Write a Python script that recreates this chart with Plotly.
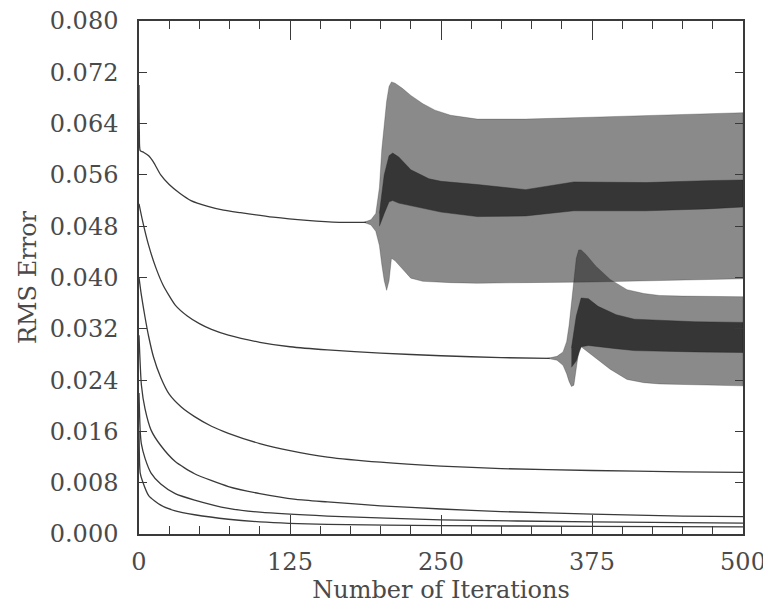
import plotly.graph_objects as go

# ---------------- data ----------------
# Curve A (smooth part, before oscillation)
a_x = [0, 0.3, 1, 4, 8, 12, 18, 25, 34, 43, 57, 70, 84, 111, 139, 166, 188]
a_y = [0.0700, 0.0625, 0.0598, 0.0595, 0.0590, 0.0580, 0.0560, 0.0545, 0.0531, 0.0520, 0.0511, 0.0505, 0.0501, 0.0494, 0.0489, 0.0486, 0.0486]

# Curve A oscillation envelope
a_env_x = [186, 192, 196, 199, 201, 203, 205, 207, 209, 212, 218, 225, 235, 245, 258, 280, 320, 375, 430, 500]
a_env_hi = [0.0486, 0.0490, 0.0500, 0.0540, 0.0600, 0.0640, 0.0675, 0.0698, 0.0705, 0.0703, 0.0695, 0.0684, 0.0671, 0.0661, 0.0653, 0.0647, 0.0647, 0.0650, 0.0653, 0.0657]
a_env_lo = [0.0486, 0.0482, 0.0472, 0.0450, 0.0420, 0.0395, 0.0380, 0.0395, 0.0430, 0.0426, 0.0414, 0.0399, 0.0394, 0.0393, 0.0392, 0.0391, 0.0392, 0.0393, 0.0395, 0.0398]

# Curve A dense core
a_core_x = [199, 203, 207, 210, 215, 225, 240, 250, 280, 320, 360, 420, 470, 500]
a_core_hi = [0.0500, 0.0560, 0.0590, 0.0594, 0.0588, 0.0568, 0.0554, 0.0550, 0.0545, 0.0537, 0.0549, 0.0548, 0.0551, 0.0552]
a_core_lo = [0.0480, 0.0500, 0.0518, 0.0520, 0.0516, 0.0511, 0.0506, 0.0502, 0.0495, 0.0496, 0.0504, 0.0504, 0.0507, 0.0510]

# Curve B (smooth part)
b_x = [0, 3, 8, 14, 20, 30, 40, 50, 60, 74, 100, 125, 156, 200, 250, 300, 340]
b_y = [0.0515, 0.0488, 0.0450, 0.0415, 0.0388, 0.0357, 0.0340, 0.0328, 0.0319, 0.0310, 0.0299, 0.0292, 0.0287, 0.0282, 0.0278, 0.0275, 0.0274]

# Curve B oscillation envelope
b_env_x = [338, 346, 351, 354, 356, 358, 360, 362, 364, 366, 370, 378, 390, 404, 418, 431, 450, 475, 500]
b_env_hi = [0.0274, 0.0277, 0.0284, 0.0300, 0.0325, 0.0360, 0.0400, 0.0430, 0.0443, 0.0443, 0.0436, 0.0418, 0.0397, 0.0381, 0.0375, 0.0372, 0.0371, 0.0371, 0.0370]
b_env_lo = [0.0274, 0.0271, 0.0263, 0.0250, 0.0238, 0.0230, 0.0232, 0.0255, 0.0285, 0.0292, 0.0286, 0.0275, 0.0257, 0.0241, 0.0236, 0.0234, 0.0233, 0.0232, 0.0231]

# Curve B dense core
b_core_x = [358, 362, 366, 372, 380, 395, 410, 430, 460, 500]
b_core_hi = [0.0290, 0.0340, 0.0368, 0.0367, 0.0355, 0.0342, 0.0335, 0.0333, 0.0331, 0.0330]
b_core_lo = [0.0260, 0.0270, 0.0292, 0.0294, 0.0293, 0.0289, 0.0286, 0.0285, 0.0284, 0.0283]

# Curves C-F
c_x = [0, 2, 5, 8, 12, 18, 25, 35, 46, 60, 74, 100, 125, 156, 200, 250, 300, 375, 450, 500]
c_y = [0.0400, 0.0372, 0.0338, 0.0308, 0.0276, 0.0244, 0.0218, 0.0198, 0.0183, 0.0168, 0.0157, 0.0141, 0.0130, 0.0120, 0.0112, 0.0106, 0.0102, 0.0099, 0.0097, 0.0096]

d_x = [0, 2, 5, 10, 18, 30, 46, 74, 100, 130, 156, 200, 250, 300, 375, 450, 500]
d_y = [0.0310, 0.0232, 0.0195, 0.0162, 0.0138, 0.0113, 0.0094, 0.0074, 0.0063, 0.0054, 0.0050, 0.0044, 0.0039, 0.0035, 0.0031, 0.0028, 0.0027]

e_x = [0, 1, 2, 5, 10, 18, 30, 46, 74, 100, 156, 250, 375, 500]
e_y = [0.0220, 0.0160, 0.0140, 0.0118, 0.0095, 0.0078, 0.0063, 0.0053, 0.0040, 0.0034, 0.0028, 0.0022, 0.0019, 0.0017]

f_x = [0, 0.5, 1, 3, 8, 18, 30, 46, 74, 100, 156, 250, 375, 500]
f_y = [0.0160, 0.0110, 0.0095, 0.0082, 0.0060, 0.0045, 0.0036, 0.0030, 0.0023, 0.0019, 0.0015, 0.0013, 0.0012, 0.0011]

x_ticks = [0, 125, 250, 375, 500]
y_ticks = [0.000, 0.008, 0.016, 0.024, 0.032, 0.040, 0.048, 0.056, 0.064, 0.072, 0.080]

# ---------------- figure ----------------
LINE = "#3a3a3a"
TEXT = "#4a4a4a"
BAND = "rgba(30,30,30,0.52)"
CORE = "rgba(35,35,35,0.82)"

fig = go.Figure()


def band(xs, hi, lo, color):
    fig.add_trace(go.Scatter(
        x=list(xs) + list(xs)[::-1],
        y=list(hi) + list(lo)[::-1],
        mode="lines", fill="toself", fillcolor=color,
        line=dict(color=color, width=0.5),
        hoverinfo="skip", showlegend=False))


band(a_env_x, a_env_hi, a_env_lo, BAND)
band(b_env_x, b_env_hi, b_env_lo, BAND)
band(a_core_x, a_core_hi, a_core_lo, CORE)
band(b_core_x, b_core_hi, b_core_lo, CORE)

for xs, ys in [(a_x, a_y), (b_x, b_y), (c_x, c_y), (d_x, d_y), (e_x, e_y), (f_x, f_y)]:
    fig.add_trace(go.Scatter(x=xs, y=ys, mode="lines",
                             line=dict(color=LINE, width=1.3, shape="spline", smoothing=0.6),
                             showlegend=False))

font = dict(family="DejaVu Serif", size=24, color=TEXT)

# the page body adds an 8px offset; margins compensate for it
fig.update_layout(
    width=771, height=602,
    margin=dict(l=131, r=36, t=13, b=76),
    paper_bgcolor="white", plot_bgcolor="white",
    font=font,
    showlegend=False,
)
fig.update_xaxes(
    range=[0, 500], tickvals=x_ticks, ticktext=[str(v) for v in x_ticks],
    ticks="inside", ticklen=19, tickwidth=1.2, tickcolor=LINE,
    minor=dict(dtick=25, ticks="inside", ticklen=8, tickwidth=1.2, tickcolor=LINE, showgrid=False),
    showline=True, linecolor=LINE, linewidth=1.5, mirror="ticks",
    showgrid=False, zeroline=False, automargin=False,
    ticklabelstandoff=5, ticklabeloverflow="allow",
    title=dict(text="Number of Iterations", standoff=5, font=font),
    tickfont=font,
)
fig.update_yaxes(
    range=[0, 0.08], tickvals=y_ticks, ticktext=[f"{v:.3f}" for v in y_ticks],
    ticks="inside", ticklen=8, tickwidth=1.2, tickcolor=LINE,
    showline=True, linecolor=LINE, linewidth=1.5, mirror="ticks",
    showgrid=False, zeroline=False, automargin=False,
    ticklabelstandoff=14, ticklabeloverflow="allow",
    title=dict(text="RMS Error", standoff=6, font=font),
    tickfont=font,
)

fig.write_html("out.html")
